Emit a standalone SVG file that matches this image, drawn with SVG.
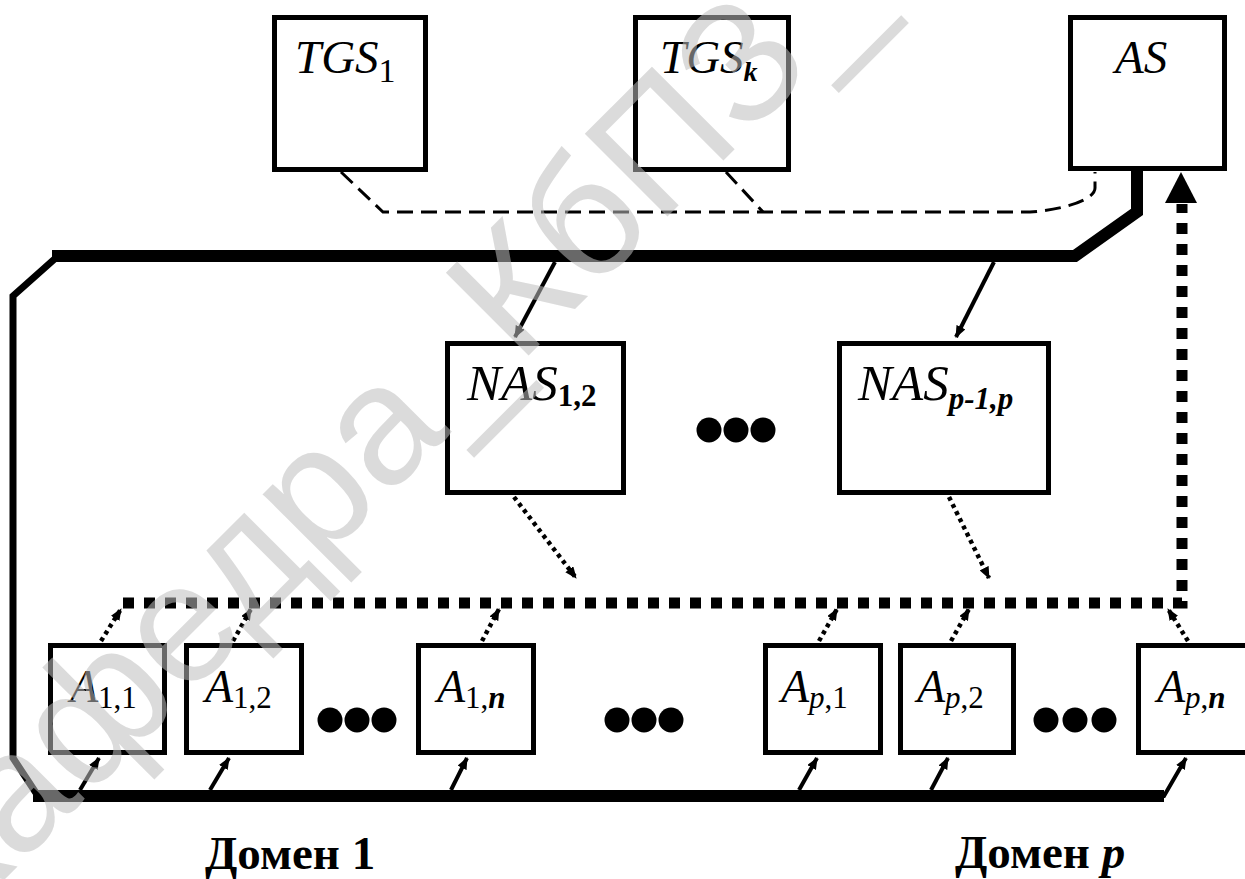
<svg xmlns="http://www.w3.org/2000/svg" width="1245" height="879" viewBox="0 0 1245 879">
  <style>
    .box { fill: #fff; stroke: #000; stroke-width: 5; }
    .lbl { font-family: 'Liberation Serif', 'Times New Roman', serif; font-style: italic; fill: #000; }
    .up { font-style: normal; }
    .bi { font-style: italic; font-weight: bold; }
    .b { font-style: normal; font-weight: bold; }
    .dom { font-family: 'Liberation Serif', 'Times New Roman', serif; font-weight: bold; font-size: 47px; fill: #000; }
    .bus { fill: none; stroke: #000; stroke-width: 12; stroke-linejoin: miter; }
    .thin { fill: none; stroke: #000; stroke-width: 4; }
    .dash { fill: none; stroke: #000; stroke-width: 3; stroke-dasharray: 16 8; }
    .dots { fill: none; stroke: #000; stroke-width: 4.5; stroke-dasharray: 4 4; }
    .big { fill: none; stroke: #000; stroke-width: 11; stroke-dasharray: 11 10; }
    .wm { font-family: 'Liberation Sans', Arial, sans-serif; font-size: 170px; fill: #bebebe; fill-opacity: 0.55; }
  </style>
  <defs>
    <marker id="ah" viewBox="0 0 12 10" refX="11" refY="5" markerWidth="12" markerHeight="10" markerUnits="userSpaceOnUse" orient="auto">
      <path d="M0,0 L12,5 L0,10 z" fill="#000"/>
    </marker>
  </defs>

  <rect width="1245" height="879" fill="#fff"/>

  <!-- connectors -->
  <g id="connectors">
    <!-- TGS / AS key exchange (dashed) -->
    <path class="dash" d="M341,172 L383,212 L1030,212 C1062,210 1095,200 1095,188 L1095,172"/>
    <path class="dash" d="M726,172 L763,212"/>

    <!-- main bus -->
    <path class="bus" d="M1137,171 L1137,212 L1075,256 L52,256"/>
    <path fill="none" stroke="#000" stroke-width="7" d="M58,256 L13,296 L13,758 L38,796"/>
    <path class="bus" d="M33,796 L1164,796"/>

    <!-- bus to NAS -->
    <path class="thin" d="M555,262 L515,337" marker-end="url(#ah)"/>
    <path class="thin" d="M994,262 L956,337" marker-end="url(#ah)"/>

    <!-- bus to A nodes -->
    <path class="thin" d="M80,790 L99,758" marker-end="url(#ah)"/>
    <path class="thin" d="M210,790 L229,758" marker-end="url(#ah)"/>
    <path class="thin" d="M451,790 L467,758" marker-end="url(#ah)"/>
    <path class="thin" d="M799,790 L817,758" marker-end="url(#ah)"/>
    <path class="thin" d="M931,790 L948,758" marker-end="url(#ah)"/>
    <path class="thin" d="M1160,796 L1164,796 L1186,758" marker-end="url(#ah)"/>

    <!-- NAS to inter-domain line (dotted) -->
    <path class="dots" d="M514,497 L576,578" marker-end="url(#ah)"/>
    <path class="dots" d="M949,497 L989,578" marker-end="url(#ah)"/>

    <!-- A nodes to inter-domain line (dotted) -->
    <path class="dots" d="M101,641 L121,609" marker-end="url(#ah)"/>
    <path class="dots" d="M233,641 L251,609" marker-end="url(#ah)"/>
    <path class="dots" d="M482,641 L499,609" marker-end="url(#ah)"/>
    <path class="dots" d="M819,641 L837,609" marker-end="url(#ah)"/>
    <path class="dots" d="M951,641 L969,609" marker-end="url(#ah)"/>
    <path class="dots" d="M1188,641 L1168,609" marker-end="url(#ah)"/>

    <!-- inter-domain line up to AS -->
    <path class="big" d="M123,603 L1182,603 L1182,204"/>
    <polygon points="1165,203 1197,203 1181,172" fill="#000"/>
  </g>

  <!-- servers -->
  <g id="tgs1">
    <rect class="box" x="274.5" y="17.5" width="151" height="152"/>
    <text class="lbl" x="295" y="73" font-size="47">TGS<tspan class="up" font-size="34" dy="9">1</tspan></text>
  </g>
  <g id="tgsk">
    <rect class="box" x="635.5" y="17.5" width="153" height="152"/>
    <text class="lbl" x="660" y="73" font-size="47">TGS<tspan class="bi" font-size="28" dy="8">k</tspan></text>
  </g>
  <g id="as">
    <rect class="box" x="1070.5" y="17.5" width="154" height="151"/>
    <text class="lbl" x="1115" y="73" font-size="47">AS</text>
  </g>
  <g id="nas12">
    <rect class="box" x="447.5" y="343.5" width="176" height="149"/>
    <text class="lbl" x="467" y="400" font-size="51">NAS<tspan class="b" font-size="31" dy="6">1,2</tspan></text>
  </g>
  <g id="nasp">
    <rect class="box" x="839.5" y="343.5" width="209" height="149"/>
    <text class="lbl" x="858" y="400" font-size="51">NAS<tspan class="bi" font-size="31" dy="9">p-1,p</tspan></text>
  </g>

  <!-- domain 1 agents -->
  <g id="a11">
    <rect class="box" x="50.5" y="645.5" width="114" height="107"/>
    <text class="lbl" x="70" y="702" font-size="46">A<tspan class="up" font-size="31" dy="6">1,1</tspan></text>
  </g>
  <g id="a12">
    <rect class="box" x="186.5" y="645.5" width="115" height="107"/>
    <text class="lbl" x="205" y="702" font-size="46">A<tspan class="up" font-size="31" dy="6">1,2</tspan></text>
  </g>
  <g id="a1n">
    <rect class="box" x="418.5" y="645.5" width="115" height="107"/>
    <text class="lbl" x="437" y="702" font-size="46">A<tspan class="up" font-size="31" dy="6">1,</tspan><tspan class="bi" font-size="31">n</tspan></text>
  </g>

  <!-- domain p agents -->
  <g id="ap1">
    <rect class="box" x="765.5" y="645.5" width="115" height="107"/>
    <text class="lbl" x="781" y="702" font-size="46">A<tspan font-size="31" dy="6">p</tspan><tspan class="up" font-size="31">,1</tspan></text>
  </g>
  <g id="ap2">
    <rect class="box" x="900.5" y="645.5" width="113" height="107"/>
    <text class="lbl" x="917" y="702" font-size="46">A<tspan font-size="31" dy="6">p</tspan><tspan class="up" font-size="31">,2</tspan></text>
  </g>
  <g id="apn">
    <rect class="box" x="1138.5" y="645.5" width="130" height="107"/>
    <text class="lbl" x="1157" y="702" font-size="46">A<tspan font-size="31" dy="6">p</tspan><tspan class="up" font-size="31">,</tspan><tspan class="bi" font-size="31">n</tspan></text>
  </g>

  <!-- ellipsis marks -->
  <g id="ellipses" fill="#000">
    <circle cx="709" cy="430" r="12.5"/><circle cx="736" cy="430" r="12.5"/><circle cx="763" cy="430" r="12.5"/>
    <circle cx="330" cy="720" r="12.5"/><circle cx="357" cy="720" r="12.5"/><circle cx="384" cy="720" r="12.5"/>
    <circle cx="617" cy="720" r="12.5"/><circle cx="644" cy="720" r="12.5"/><circle cx="671" cy="720" r="12.5"/>
    <circle cx="1046" cy="720" r="12.5"/><circle cx="1075" cy="720" r="12.5"/><circle cx="1104" cy="720" r="12.5"/>
  </g>

  <!-- domain captions -->
  <text class="dom" x="205" y="869">Домен 1</text>
  <text class="dom" x="955" y="868">Домен <tspan font-style="italic">p</tspan></text>

  <!-- watermark -->
  <g transform="rotate(-45 452 432)">
    <text class="wm" x="452" y="432" text-anchor="end">Кафедра</text>
    <text class="wm" x="452" y="432">_КбПЗ_</text>
  </g>
</svg>
